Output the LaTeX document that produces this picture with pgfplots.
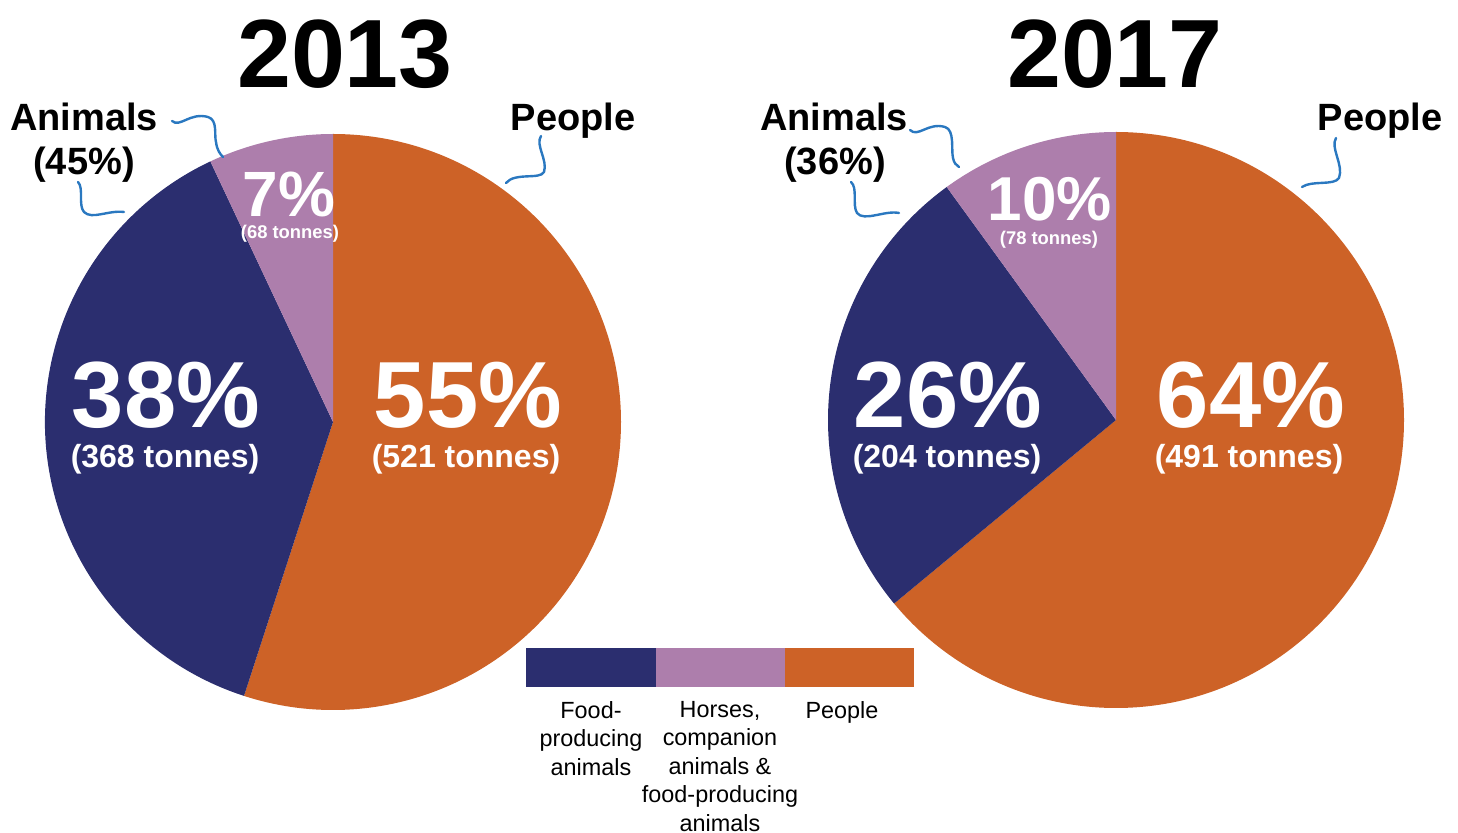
\documentclass[border=0pt]{standalone}
\usepackage{pgfplots}
\pgfplotsset{compat=1.18}
\usepackage{pgfplotstable}
\usepackage{fontspec}
\setmainfont{Liberation Sans}
\definecolor{navyC}{HTML}{2B2E6F}
\definecolor{purpC}{HTML}{AD7EAC}
\definecolor{oranC}{HTML}{CD6227}
\definecolor{lineC}{HTML}{2A78C0}
\definecolor{txtC}{HTML}{231F20}
\pgfplotstableread{
year cx  cy  food horses people
2013 333 422 38   7      55
2017 1116 420 26  10     64
}\pietable
\begin{document}
\begin{tikzpicture}
\pgfplotstablegetelem{0}{food}\of\pietable \let\fa\pgfplotsretval
\pgfplotstablegetelem{0}{horses}\of\pietable \let\ha\pgfplotsretval
\pgfplotstablegetelem{0}{people}\of\pietable \let\pa\pgfplotsretval
\pgfplotstablegetelem{1}{food}\of\pietable \let\fb\pgfplotsretval
\pgfplotstablegetelem{1}{horses}\of\pietable \let\hb\pgfplotsretval
\pgfplotstablegetelem{1}{people}\of\pietable \let\pb\pgfplotsretval
\pgfmathsetmacro{\aPA}{90-3.6*\pa}
\pgfmathsetmacro{\aFA}{90-3.6*(\pa+\fa)}
\pgfmathsetmacro{\aHA}{90-3.6*(\pa+\fa+\ha)}
\pgfmathsetmacro{\aPB}{90-3.6*\pb}
\pgfmathsetmacro{\aFB}{90-3.6*(\pb+\fb)}
\pgfmathsetmacro{\aHB}{90-3.6*(\pb+\fb+\hb)}
\begin{axis}[
  x=0.5pt, y=0.5pt,
  xmin=0, xmax=1458, ymin=0, ymax=833,
  y dir=reverse,
  hide axis, clip=false,
  every node/.style={inner sep=0pt, text=txtC},
]
\coordinate (LL) at (axis cs:0,833);
\coordinate (UR) at (axis cs:1458,0);
% 2013 pie
\fill[oranC] (axis cs:333,422) -- ++(90:144pt) arc[start angle=90, end angle=\aPA, radius=144pt] -- cycle;
\fill[navyC] (axis cs:333,422) -- ++(\aPA:144pt) arc[start angle=\aPA, end angle=\aFA, radius=144pt] -- cycle;
\fill[purpC] (axis cs:333,422) -- ++(\aFA:144pt) arc[start angle=\aFA, end angle=\aHA, radius=144pt] -- cycle;
% 2017 pie
\fill[oranC] (axis cs:1116,420) -- ++(90:144pt) arc[start angle=90, end angle=\aPB, radius=144pt] -- cycle;
\fill[navyC] (axis cs:1116,420) -- ++(\aPB:144pt) arc[start angle=\aPB, end angle=\aFB, radius=144pt] -- cycle;
\fill[purpC] (axis cs:1116,420) -- ++(\aFB:144pt) arc[start angle=\aFB, end angle=\aHB, radius=144pt] -- cycle;
% titles
\node[anchor=base, font=\fontsize{48.5}{48.5}\selectfont\bfseries] at (axis cs:345,88) {2013};
\node[anchor=base, font=\fontsize{48.5}{48.5}\selectfont\bfseries] at (axis cs:1115,88) {2017};
% outside labels
\node[anchor=base, font=\fontsize{19}{19}\selectfont\bfseries] at (axis cs:84,131) {Animals};
\node[anchor=base, font=\fontsize{19}{19}\selectfont\bfseries] at (axis cs:84,175) {(45\%)};
\node[anchor=base, font=\fontsize{19}{19}\selectfont\bfseries] at (axis cs:573,131) {People};
\node[anchor=base, font=\fontsize{19}{19}\selectfont\bfseries] at (axis cs:834,131) {Animals};
\node[anchor=base, font=\fontsize{19}{19}\selectfont\bfseries] at (axis cs:835,175) {(36\%)};
\node[anchor=base, font=\fontsize{19}{19}\selectfont\bfseries] at (axis cs:1380,131) {People};
% inside labels
\node[anchor=base, text=white, font=\fontsize{47}{47}\selectfont\bfseries] at (axis cs:166,428) {38\%};
\node[anchor=base, text=white, font=\fontsize{16}{16}\selectfont\bfseries] at (axis cs:165,468) {(368 tonnes)};
\node[anchor=base, text=white, font=\fontsize{47}{47}\selectfont\bfseries] at (axis cs:468,428) {55\%};
\node[anchor=base, text=white, font=\fontsize{16}{16}\selectfont\bfseries] at (axis cs:466,468) {(521 tonnes)};
\node[anchor=base, text=white, font=\fontsize{32}{32}\selectfont\bfseries] at (axis cs:289,217) {7\%};
\node[anchor=base, text=white, font=\fontsize{9.2}{9.2}\selectfont\bfseries] at (axis cs:290,239) {(68 tonnes)};
\node[anchor=base, text=white, font=\fontsize{47}{47}\selectfont\bfseries] at (axis cs:948,428) {26\%};
\node[anchor=base, text=white, font=\fontsize{16}{16}\selectfont\bfseries] at (axis cs:947,468) {(204 tonnes)};
\node[anchor=base, text=white, font=\fontsize{47}{47}\selectfont\bfseries] at (axis cs:1251,428) {64\%};
\node[anchor=base, text=white, font=\fontsize{16}{16}\selectfont\bfseries] at (axis cs:1249,468) {(491 tonnes)};
\node[anchor=base, text=white, font=\fontsize{31}{31}\selectfont\bfseries] at (axis cs:1050,221) {10\%};
\node[anchor=base, text=white, font=\fontsize{9.2}{9.2}\selectfont\bfseries] at (axis cs:1049,245) {(78 tonnes)};
% squiggles
\begin{scope}[draw=lineC, line width=1.2pt, line cap=round]
\draw (axis cs:172,121) .. controls (axis cs:180,128) and (axis cs:190,112) .. (axis cs:208,117) .. controls (axis cs:218,120) and (axis cs:214,135) .. (axis cs:216,142) .. controls (axis cs:217,150) and (axis cs:220,154) .. (axis cs:223,157);
\draw (axis cs:78,182) .. controls (axis cs:84,188) and (axis cs:78,205) .. (axis cs:84,212) .. controls (axis cs:92,220) and (axis cs:108,210) .. (axis cs:124,212);
\draw (axis cs:541,136) .. controls (axis cs:535,145) and (axis cs:548,160) .. (axis cs:544,172) .. controls (axis cs:540,180) and (axis cs:515,172) .. (axis cs:506,183);
\draw (axis cs:910,130) .. controls (axis cs:918,138) and (axis cs:928,122) .. (axis cs:945,127) .. controls (axis cs:955,130) and (axis cs:951,150) .. (axis cs:953,158) .. controls (axis cs:954,163) and (axis cs:956,165) .. (axis cs:959,167);
\draw (axis cs:851,182) .. controls (axis cs:858,188) and (axis cs:852,205) .. (axis cs:857,213) .. controls (axis cs:864,222) and (axis cs:885,210) .. (axis cs:899,213);
\draw (axis cs:1336,138) .. controls (axis cs:1330,148) and (axis cs:1344,165) .. (axis cs:1339,178) .. controls (axis cs:1334,186) and (axis cs:1312,180) .. (axis cs:1302,187);
\end{scope}
% legend
\fill[navyC] (axis cs:526,648) rectangle (axis cs:656,687);
\fill[purpC] (axis cs:656,648) rectangle (axis cs:785,687);
\fill[oranC] (axis cs:785,648) rectangle (axis cs:914,687);
\node[anchor=north, align=center, font=\fontsize{11.7}{14.3}\selectfont] at (axis cs:591,694) {Food-\\producing\\animals};
\node[anchor=north, align=center, font=\fontsize{11.7}{14.3}\selectfont] at (axis cs:720,694) {Horses,\\companion\\animals \&\\food-producing\\animals};
\node[anchor=north, align=center, font=\fontsize{11.7}{14.3}\selectfont] at (axis cs:842,694) {People};
\end{axis}
\pgfresetboundingbox
\useasboundingbox (LL) rectangle (UR);
\end{tikzpicture}
\end{document}
